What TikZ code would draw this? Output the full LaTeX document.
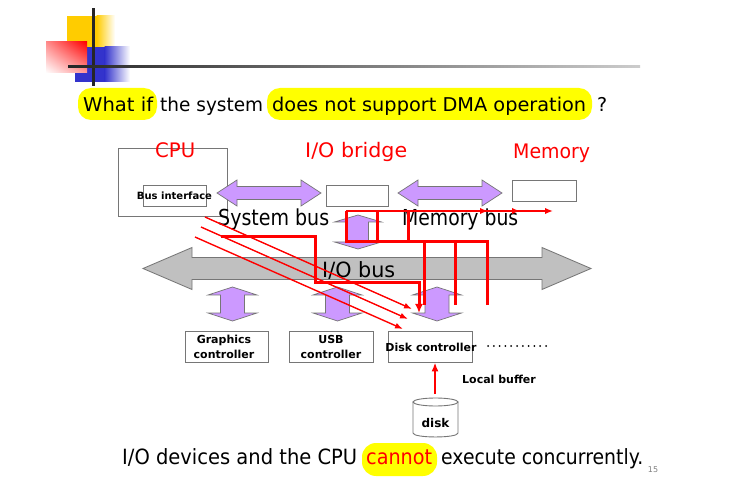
\documentclass[tikz,border=0pt]{standalone}
\usepackage{fontspec}
\setmainfont{DejaVu Sans}
\usepackage{graphicx}
\usetikzlibrary{arrows.meta,shadings}

\definecolor{lav}{RGB}{204,153,255}
\definecolor{busgray}{RGB}{192,192,192}
\definecolor{edgegray}{RGB}{118,118,118}
\definecolor{hlyellow}{RGB}{255,255,0}
\definecolor{logoyellow}{RGB}{255,204,0}
\definecolor{logoblue}{RGB}{51,51,204}

% set a text to a given width, keeping its natural height
\newcommand\fw[2]{\resizebox{#1pt}{\height}{#2}}

% horizontal double arrow: style, x1, x2, yc, shaft half-height, head half-height, head length
\newcommand\harr[7]{\draw[#1] (#2,#4) -- ({#2+#7},{#4-#6}) -- ({#2+#7},{#4-#5}) -- ({#3-#7},{#4-#5})
  -- ({#3-#7},{#4-#6}) -- (#3,#4) -- ({#3-#7},{#4+#6}) -- ({#3-#7},{#4+#5}) -- ({#2+#7},{#4+#5})
  -- ({#2+#7},{#4+#6}) -- cycle;}
% vertical double arrow: style, xc, y1, y2, shaft half-width, head half-width, head length
\newcommand\varr[7]{\draw[#1] (#2,#3) -- ({#2+#6},{#3+#7}) -- ({#2+#5},{#3+#7}) -- ({#2+#5},{#4-#7})
  -- ({#2+#6},{#4-#7}) -- (#2,#4) -- ({#2-#6},{#4-#7}) -- ({#2-#5},{#4-#7}) -- ({#2-#5},{#3+#7})
  -- ({#2-#6},{#3+#7}) -- cycle;}

\tikzset{
  lbl/.style={inner sep=0pt, anchor=base west},
  ttl/.style={lbl, font=\fontsize{19}{22}\selectfont},
  btm/.style={lbl, font=\fontsize{21}{25}\selectfont},
  redlbl/.style={lbl, text=red, font=\fontsize{20}{24}\selectfont},
  buslbl/.style={lbl, font=\fontsize{22}{26}\selectfont},
  devbox/.style={draw=edgegray, line width=0.9pt, fill=white, inner sep=0pt},
  boldtxt/.style={inner sep=0pt, font=\fontsize{11}{14.5}\selectfont\bfseries, align=center},
  purplearrow/.style={fill=lav, draw=edgegray, line width=0.7pt},
  busarrow/.style={fill=busgray, draw=edgegray, line width=0.8pt},
  flow/.style={draw=red, line width=3pt},
  flowthin/.style={draw=red, line width=1.4pt},
  hl/.style={fill=hlyellow, rounded corners=13pt}
}

\begin{document}
\begin{tikzpicture}[x=1pt, y=-1pt]
\useasboundingbox (0,0) rectangle (740,500);
\fill[white] (0,0) rectangle (740,500);

% corner logo
\fill[logoyellow] (67,16) rectangle (97,47);
\shade[left color=logoyellow, right color=white] (96.5,16) rectangle (115,47);
\fill[logoblue] (75,47) rectangle (105,82);
\shade[left color=logoblue, right color=white] (104.5,47) rectangle (130,82);
\shade[upper right=red, lower left=white, upper left=red!45, lower right=red!40] (46,42) rectangle (87,73);
\fill[black!85] (91.5,8) rectangle (94.5,86);
\shade[left color=black!85, right color=black!20] (68,66) rectangle (640,68);

% question line
\fill[hl] (78,88) rectangle (157,120);
\fill[hl] (267,88) rectangle (592,120);
\node[ttl] (q1) at (83,112) {\fw{70}{What if}};
\node[ttl] (q2) at (160,112) {\fw{103}{the system}};
\node[ttl] (q3) at (272,112) {\fw{314}{does not support DMA operation}};
\node[ttl] (q4) at (597,112) {?};

% CPU, bridge and memory
\node[devbox, minimum width=109pt, minimum height=68pt] (cpu) at (172.5,182.5) {};
\node[devbox, minimum width=63pt, minimum height=21pt] (busif) at (174.5,195.5) {};
\node[boldtxt, font=\fontsize{10}{12}\selectfont\bfseries] (busiftxt) at (174.5,195.5) {Bus interface};
\node[devbox, minimum width=62pt, minimum height=21pt] (bridge) at (357,195.5) {};
\node[devbox, minimum width=64pt, minimum height=21pt] (mem) at (544,190.5) {};

\node[redlbl] (cpulbl) at (155,158) {\fw{40}{CPU}};
\node[redlbl] (bridgelbl) at (305,158) {\fw{102}{I/O bridge}};
\node[redlbl] (memlbl) at (513,159) {\fw{77}{Memory}};

% buses
\harr{purplearrow}{217}{321}{193}{6.5}{13}{20}
\harr{purplearrow}{398}{502}{193}{6.5}{13}{20}
\varr{purplearrow}{358}{215}{249}{10.5}{23.5}{7}
\harr{busarrow}{143}{591}{268.5}{11}{21}{49}
\varr{purplearrow}{232.5}{287}{321}{12}{24.5}{8}
\varr{purplearrow}{337.5}{287}{321}{12}{24.5}{8}
\varr{purplearrow}{437}{287}{321}{12}{24.5}{8}

\node[buslbl] (sysbus) at (218,226) {\fw{111}{System bus}};
\node[buslbl] (membus) at (402,226) {\fw{116}{Memory bus}};
\node[buslbl, font=\fontsize{21}{25}\selectfont] (iobus) at (322,277) {\fw{73}{I/O bus}};

% device controllers
\node[devbox, minimum width=83pt, minimum height=31pt] (gfx) at (226.5,346.5) {};
\node[boldtxt] (gfxtxt) at (224,347) {Graphics\\controller};
\node[devbox, minimum width=84pt, minimum height=31pt] (usb) at (331,346.5) {};
\node[boldtxt] (usbtxt) at (331,347) {USB\\controller};
\node[devbox, minimum width=84pt, minimum height=31pt] (dctl) at (430,346.5) {};
\node[boldtxt] (dctltxt) at (431,347) {Disk controller};
\coordinate (dots1) at (488,346);
\coordinate (dots2) at (546,346);
\draw[black, line width=2pt, line cap=round, dash pattern=on 0pt off 5.8pt] (dots1) -- (dots2);
\node[boldtxt, anchor=west] (lbuf) at (462,379) {Local buffer};

% disk
\filldraw[fill=white, draw=edgegray, line width=0.9pt] (413,402) -- (413,433)
  .. controls (413,438.3) and (458,438.3) .. (458,433) -- (458,402) -- cycle;
\filldraw[fill=white, draw=edgegray, line width=0.9pt] (435.5,402) ellipse[x radius=22.5, y radius=4];
\node[boldtxt, font=\fontsize{12}{14}\selectfont\bfseries] (disk) at (435.5,423) {disk};
\coordinate (disktop) at (435,394);
\draw[flow, line width=2.5pt, -{Latex[length=9pt,width=7pt]}] (disktop) -- (dctl.south -| disktop);

% programmed I/O paths
\coordinate (d1s) at (205,217); \coordinate (d1e) at (412,309);
\coordinate (d2s) at (201,227); \coordinate (d2e) at (408,319);
\coordinate (d3s) at (195,237); \coordinate (d3e) at (403,329);
\draw[flowthin, -{Latex[length=8pt,width=6pt]}] (d1s) -- (d1e);
\draw[flowthin, -{Latex[length=8pt,width=6pt]}] (d2s) -- (d2e);
\draw[flowthin, -{Latex[length=8pt,width=6pt]}] (d3s) -- (d3e);

\coordinate (pa) at (221,237);
\coordinate (pb) at (419,313);
\draw[flow, -{Latex[length=9pt,width=8pt]}] (pa) -- (315,237) -- (315,283) -- (419,283) -- (pb);

\coordinate (loop) at (346,211);
\draw[flow, line join=miter] (487,305) -- (487,242) -- (346,242) -- (loop);
\draw[flow] (377,211) -- (377,242);
\draw[flow] (408,211) -- (408,242);
\draw[flow] (424,242) -- (424,305);
\draw[flow] (455,242) -- (455,305);
\coordinate (m1) at (488,211);
\coordinate (m2) at (520,211);
\coordinate (m3) at (553,211);
\draw[draw=red, line width=2.2pt, -{Latex[length=8pt,width=6.5pt]}] (loop) -- (m3);
\draw[draw=red, line width=2.2pt, -{Latex[length=8pt,width=6.5pt]}] (loop) -- (m2);
\draw[draw=red, line width=2.2pt, -{Latex[length=8pt,width=6.5pt]}] (loop) -- (m1);

% closing remark
\fill[hl, rounded corners=14pt] (362,443) rectangle (437,476);
\node[btm] (b1) at (122,464) {\fw{235}{I/O devices and the CPU}};
\node[btm, text=red] (b2) at (366,464) {\fw{66}{cannot}};
\node[btm] (b3) at (441,464) {\fw{202}{execute concurrently.}};
\node[font=\fontsize{8}{9}\selectfont, text=gray, inner sep=0pt] (pg) at (653,470) {15};
\end{tikzpicture}
\end{document}
